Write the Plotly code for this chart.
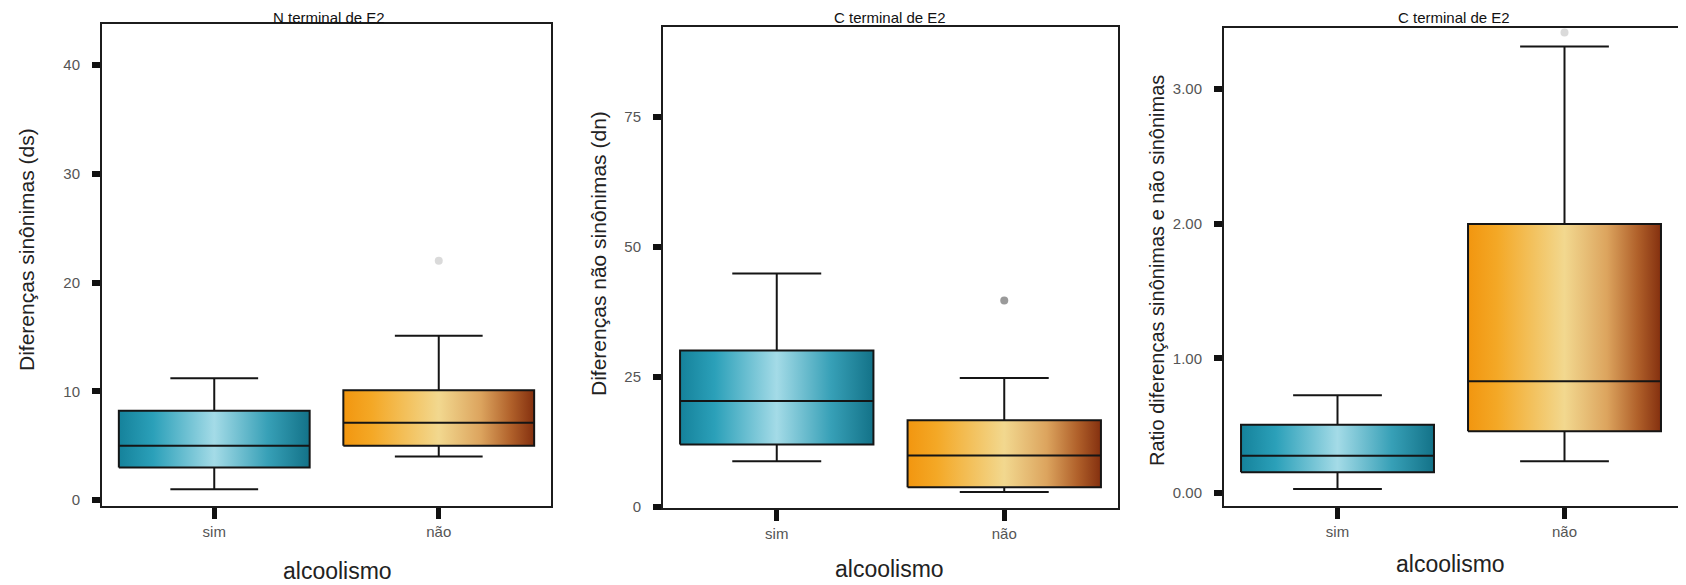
import plotly.graph_objects as go

W, H = 1686, 585

# ---------------- data ----------------
categories = ["sim", "não"]
panel_titles = ["N terminal de E2", "C terminal de E2", "C terminal de E2"]
y_titles = ["Diferenças sinônimas (ds)",
            "Diferenças não sinônimas (dn)",
            "Ratio diferenças sinônimas e não sinônimas"]
x_title = "alcoolismo"

# panel 1: synonymous differences (ds)
ds_lower = [1.0, 4.0]
ds_q1 = [3.0, 5.0]
ds_median = [5.0, 7.1]
ds_q3 = [8.2, 10.1]
ds_upper = [11.2, 15.1]
ds_out_cat = ["não"]
ds_out_val = [22.0]

# panel 2: non-synonymous differences (dn)
dn_lower = [8.8, 2.9]
dn_q1 = [12.0, 3.8]
dn_median = [20.4, 9.9]
dn_q3 = [30.1, 16.7]
dn_upper = [44.9, 24.8]
dn_out_cat = ["não"]
dn_out_val = [39.7]

# panel 3: ratio
rt_lower = [0.03, 0.235]
rt_q1 = [0.154, 0.458]
rt_median = [0.277, 0.829]
rt_q3 = [0.507, 1.997]
rt_upper = [0.725, 3.316]
rt_out_cat = ["não"]
rt_out_val = [3.42]

y_ticks = [[0, 10, 20, 30, 40], [0, 25, 50, 75], [0, 1, 2, 3]]
y_tickfmt = ["d", "d", ".2f"]
y_ranges = [[-0.55, 43.77], [-0.19, 92.3], [-0.0965, 3.453]]

# ---------------- styling ----------------
teal_scale = [[0.0, "#15829b"], [0.18, "#2ba0b9"], [0.5, "#a4dbe7"],
              [0.78, "#37a0b7"], [1.0, "#137288"]]
orange_scale = [[0.0, "#f2960f"], [0.15, "#f4a826"], [0.5, "#f2d88f"],
                [0.72, "#dca45e"], [0.88, "#b0602a"], [1.0, "#84300f"]]
fills = [teal_scale, orange_scale]
box_w = 0.85
cap_frac = 0.46
outlier_colors = ["rgba(150,150,150,0.35)", "rgba(120,120,120,0.75)", "rgba(150,150,150,0.35)"]

def px_x(p):
    return p / W

def px_y(p):
    return 1 - p / H

x_domains = [[px_x(94), px_x(543)], [px_x(655), px_x(1110)], [px_x(1216), px_x(1670)]]
y_domains = [[px_y(498), px_y(16)], [px_y(500), px_y(19)], [px_y(498), px_y(20)]]

panels = [
    (ds_lower, ds_q1, ds_median, ds_q3, ds_upper, ds_out_cat, ds_out_val),
    (dn_lower, dn_q1, dn_median, dn_q3, dn_upper, dn_out_cat, dn_out_val),
    (rt_lower, rt_q1, rt_median, rt_q3, rt_upper, rt_out_cat, rt_out_val),
]

fig = go.Figure()
FONT = "Liberation Sans, Arial, sans-serif"

for i, (lo, q1, med, q3, up, oc, ov) in enumerate(panels):
    xa = "x" if i == 0 else f"x{i+1}"
    ya = "y" if i == 0 else f"y{i+1}"
    pos = list(range(len(categories)))
    lx, ly = [], []
    for j, c in enumerate(pos):
        x0, x1 = c - box_w / 2, c + box_w / 2
        fig.add_trace(go.Scatter(
            x=[x0, x1, x1, x0, x0], y=[q1[j], q1[j], q3[j], q3[j], q1[j]],
            xaxis=xa, yaxis=ya, mode="lines", fill="toself",
            fillgradient=dict(type="horizontal", colorscale=fills[j]),
            line=dict(color="#151515", width=2), hoverinfo="skip", showlegend=False))
        cw = box_w * cap_frac / 2
        # median
        lx += [x0, x1, None]; ly += [med[j], med[j], None]
        # whiskers
        lx += [c, c, None, c, c, None]; ly += [q3[j], up[j], None, q1[j], lo[j], None]
        # caps
        lx += [c - cw, c + cw, None, c - cw, c + cw, None]
        ly += [up[j], up[j], None, lo[j], lo[j], None]
    fig.add_trace(go.Scatter(x=lx, y=ly, xaxis=xa, yaxis=ya, mode="lines",
                             line=dict(color="#151515", width=2),
                             hoverinfo="skip", showlegend=False))
    fig.add_trace(go.Scatter(x=[categories.index(k) for k in oc], y=ov,
                             xaxis=xa, yaxis=ya, mode="markers",
                             marker=dict(color=outlier_colors[i], size=8),
                             hoverinfo="skip", showlegend=False))

    axis_common = dict(showline=True, linecolor="#1c1c1c", linewidth=2, mirror=True,
                       showgrid=False, zeroline=False, ticks="outside",
                       tickcolor="#111", automargin=False,
                       tickfont=dict(family=FONT, size=15, color="#555"))
    fig.update_layout(**{
        ("xaxis" if i == 0 else f"xaxis{i+1}"): dict(
            axis_common, domain=x_domains[i], anchor=ya, range=[-0.5, 1.5],
            tickmode="array", tickvals=pos, ticktext=categories,
            ticklen=11, tickwidth=5),
        ("yaxis" if i == 0 else f"yaxis{i+1}"): dict(
            axis_common, domain=y_domains[i], anchor=xa, range=y_ranges[i],
            tickmode="array", tickvals=y_ticks[i], tickformat=y_tickfmt[i],
            ticklen=8, tickwidth=6, ticklabelstandoff=9),
    })

# titles and axis titles as annotations
title_x = [321, 882, 1446]
ytitle_x = [19, 590, 1149]
ytitle_y = [242, 246, 263]
xtitle_x = [329, 881, 1442]
xtitle_y = [563, 561, 556]
ann = []
for i in range(3):
    ann.append(dict(text=panel_titles[i], x=px_x(title_x[i]), y=1,
                    xref="paper", yref="paper", xanchor="center", yanchor="top",
                    borderpad=0, showarrow=False,
                    font=dict(family=FONT, size=15, color="#111")))
    ann.append(dict(text=y_titles[i], x=px_x(ytitle_x[i]), y=px_y(ytitle_y[i]),
                    xref="paper", yref="paper", xanchor="center", yanchor="middle",
                    textangle=-90, showarrow=False,
                    font=dict(family=FONT, size=20 if i == 2 else 21, color="#222")))
    ann.append(dict(text=x_title, x=px_x(xtitle_x[i]), y=px_y(xtitle_y[i]),
                    xref="paper", yref="paper", xanchor="center", yanchor="middle",
                    showarrow=False, font=dict(family=FONT, size=23, color="#222")))

fig.update_layout(
    width=W, height=H, autosize=False,
    margin=dict(l=0, r=0, t=0, b=0),
    paper_bgcolor="white", plot_bgcolor="white",
    annotations=ann, showlegend=False,
    font=dict(family=FONT),
)

fig.write_html("out.html")
